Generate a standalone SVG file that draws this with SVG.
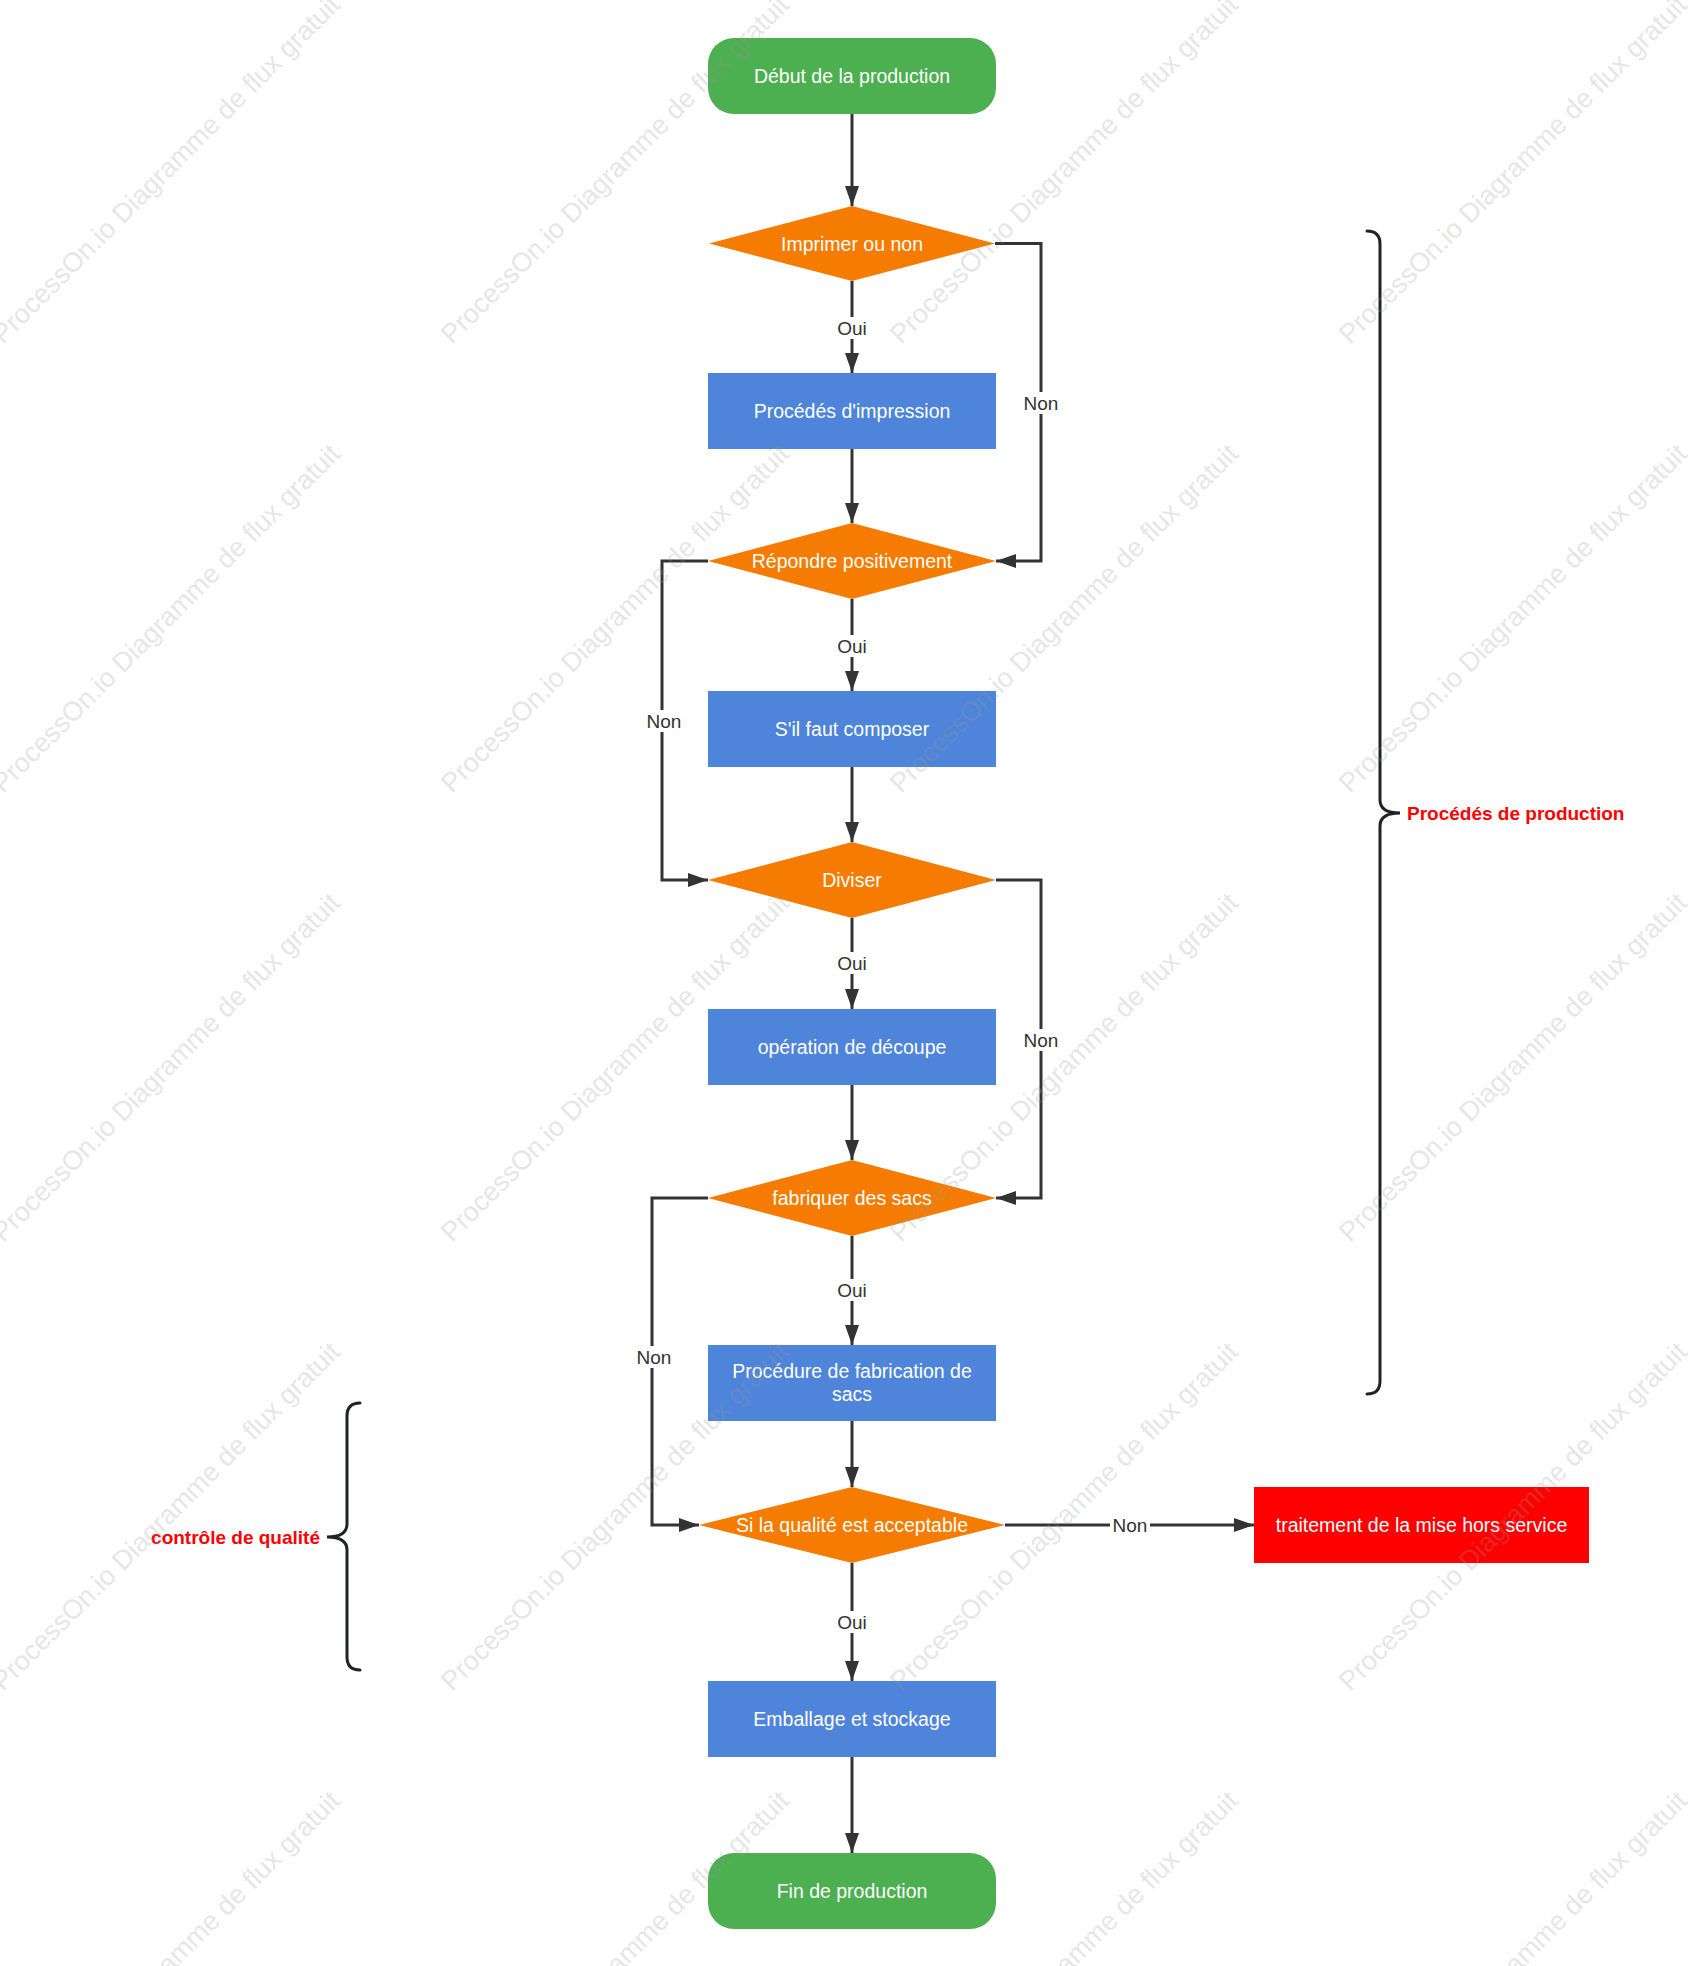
<svg xmlns="http://www.w3.org/2000/svg" width="1704" height="1966" viewBox="0 0 1704 1966">
<style>
.term{fill:#4caf50}
.proc{fill:#4e84d9}
.dec{fill:#f57c00}
.red{fill:#ff0000}
.nt{font-family:"Liberation Sans",Arial,sans-serif;font-size:19.5px;fill:#ffffff;text-anchor:middle}
.lbl{font-family:"Liberation Sans",Arial,sans-serif;font-size:19px;fill:#333333;text-anchor:middle}
.lbg{fill:#ffffff}
.conn{fill:none;stroke:#333333;stroke-width:3}
.brace{fill:none;stroke:#1f2329;stroke-width:3;stroke-linecap:round}
.bl{font-family:"Liberation Sans",Arial,sans-serif;font-size:19px;font-weight:bold;fill:#ff0000}
.wm{font-family:"Liberation Sans",Arial,sans-serif;font-size:27px;fill:#9a9a9a;opacity:0.24}
</style>
<defs>
<marker id="arr" markerUnits="userSpaceOnUse" markerWidth="20" markerHeight="14" refX="20" refY="7" orient="auto">
<path d="M0,0 L20,7 L0,14 z" fill="#333333"/>
</marker>
</defs>
<rect width="1704" height="1966" fill="#ffffff"/>

<g id="connectors">
<path class="conn" d="M852,114 L852,206" marker-end="url(#arr)"/>
<path class="conn" d="M852,281 L852,373" marker-end="url(#arr)"/>
<path class="conn" d="M995,243.5 L1041,243.5 L1041,561 L996,561" marker-end="url(#arr)"/>
<path class="conn" d="M852,449 L852,523" marker-end="url(#arr)"/>
<path class="conn" d="M852,599 L852,691" marker-end="url(#arr)"/>
<path class="conn" d="M708,561 L662,561 L662,880 L708,880" marker-end="url(#arr)"/>
<path class="conn" d="M852,767 L852,842" marker-end="url(#arr)"/>
<path class="conn" d="M852,918 L852,1009" marker-end="url(#arr)"/>
<path class="conn" d="M996,880 L1041,880 L1041,1198 L996,1198" marker-end="url(#arr)"/>
<path class="conn" d="M852,1085 L852,1160" marker-end="url(#arr)"/>
<path class="conn" d="M852,1236 L852,1345" marker-end="url(#arr)"/>
<path class="conn" d="M708,1198 L652,1198 L652,1525 L699,1525" marker-end="url(#arr)"/>
<path class="conn" d="M852,1421 L852,1487" marker-end="url(#arr)"/>
<path class="conn" d="M852,1563 L852,1681" marker-end="url(#arr)"/>
<path class="conn" d="M1005,1525 L1254,1525" marker-end="url(#arr)"/>
<path class="conn" d="M852,1757 L852,1853" marker-end="url(#arr)"/>

<rect class="lbg" x="835" y="317" width="34" height="22"/><text class="lbl" x="852" y="335">Oui</text>
<rect class="lbg" x="1021" y="392" width="40" height="22"/><text class="lbl" x="1041" y="410">Non</text>
<rect class="lbg" x="835" y="635" width="34" height="22"/><text class="lbl" x="852" y="653">Oui</text>
<rect class="lbg" x="644" y="710" width="40" height="22"/><text class="lbl" x="664" y="728">Non</text>
<rect class="lbg" x="835" y="952" width="34" height="22"/><text class="lbl" x="852" y="970">Oui</text>
<rect class="lbg" x="1021" y="1029" width="40" height="22"/><text class="lbl" x="1041" y="1047">Non</text>
<rect class="lbg" x="835" y="1279" width="34" height="22"/><text class="lbl" x="852" y="1297">Oui</text>
<rect class="lbg" x="634" y="1346" width="40" height="22"/><text class="lbl" x="654" y="1364">Non</text>
<rect class="lbg" x="1110" y="1514" width="40" height="22"/><text class="lbl" x="1130" y="1532">Non</text>
<rect class="lbg" x="835" y="1611" width="34" height="22"/><text class="lbl" x="852" y="1629">Oui</text>
</g>

<g id="n-debut"><rect class="term" x="708" y="38" width="288" height="76" rx="26" ry="26"/><text class="nt" x="852" y="83">Début de la production</text></g>
<g id="n-imprimer"><polygon class="dec" points="709,243.5 852,206 995,243.5 852,281"/><text class="nt" x="852" y="250.5">Imprimer ou non</text></g>
<g id="n-impression"><rect class="proc" x="708" y="373" width="288" height="76"/><text class="nt" x="852" y="418">Procédés d'impression</text></g>
<g id="n-repondre"><polygon class="dec" points="708,561 852,523 996,561 852,599"/><text class="nt" x="852" y="568">Répondre positivement</text></g>
<g id="n-composer"><rect class="proc" x="708" y="691" width="288" height="76"/><text class="nt" x="852" y="736">S'il faut composer</text></g>
<g id="n-diviser"><polygon class="dec" points="708,880 852,842 996,880 852,918"/><text class="nt" x="852" y="887">Diviser</text></g>
<g id="n-decoupe"><rect class="proc" x="708" y="1009" width="288" height="76"/><text class="nt" x="852" y="1054">opération de découpe</text></g>
<g id="n-fabriquer"><polygon class="dec" points="708,1198 852,1160 996,1198 852,1236"/><text class="nt" x="852" y="1205">fabriquer des sacs</text></g>
<g id="n-procedure"><rect class="proc" x="708" y="1345" width="288" height="76"/><text class="nt" x="852" y="1378">Procédure de fabrication de</text><text class="nt" x="852" y="1401">sacs</text></g>
<g id="n-qualite"><polygon class="dec" points="699,1525 852,1487 1005,1525 852,1563"/><text class="nt" x="852" y="1532">Si la qualité est acceptable</text></g>
<g id="n-hors-service"><rect class="red" x="1254" y="1487" width="335" height="76"/><text class="nt" x="1421.5" y="1532">traitement de la mise hors service</text></g>
<g id="n-emballage"><rect class="proc" x="708" y="1681" width="288" height="76"/><text class="nt" x="852" y="1726">Emballage et stockage</text></g>
<g id="n-fin"><rect class="term" x="708" y="1853" width="288" height="76" rx="26" ry="26"/><text class="nt" x="852" y="1898">Fin de production</text></g>

<g id="brace-production">
<path class="brace" d="M1367,231 Q1380,231 1380,244 L1380,800 Q1380,813 1400,813 Q1380,813 1380,826 L1380,1381 Q1380,1394 1367,1394"/>
<text class="bl" x="1407" y="820">Procédés de production</text>
</g>
<g id="brace-qualite">
<path class="brace" d="M360,1403 Q347,1403 347,1416 L347,1524 Q347,1537 327,1537 Q347,1537 347,1550 L347,1657 Q347,1670 360,1670"/>
<text class="bl" x="320" y="1544" text-anchor="end">contrôle de qualité</text>
</g>

<g id="watermark">
<text class="wm" transform="translate(3,345) rotate(-45)">ProcessOn.io Diagramme de flux gratuit</text>
<text class="wm" transform="translate(452,345) rotate(-45)">ProcessOn.io Diagramme de flux gratuit</text>
<text class="wm" transform="translate(901,345) rotate(-45)">ProcessOn.io Diagramme de flux gratuit</text>
<text class="wm" transform="translate(1350,345) rotate(-45)">ProcessOn.io Diagramme de flux gratuit</text>
<text class="wm" transform="translate(3,794) rotate(-45)">ProcessOn.io Diagramme de flux gratuit</text>
<text class="wm" transform="translate(452,794) rotate(-45)">ProcessOn.io Diagramme de flux gratuit</text>
<text class="wm" transform="translate(901,794) rotate(-45)">ProcessOn.io Diagramme de flux gratuit</text>
<text class="wm" transform="translate(1350,794) rotate(-45)">ProcessOn.io Diagramme de flux gratuit</text>
<text class="wm" transform="translate(3,1243) rotate(-45)">ProcessOn.io Diagramme de flux gratuit</text>
<text class="wm" transform="translate(452,1243) rotate(-45)">ProcessOn.io Diagramme de flux gratuit</text>
<text class="wm" transform="translate(901,1243) rotate(-45)">ProcessOn.io Diagramme de flux gratuit</text>
<text class="wm" transform="translate(1350,1243) rotate(-45)">ProcessOn.io Diagramme de flux gratuit</text>
<text class="wm" transform="translate(3,1692) rotate(-45)">ProcessOn.io Diagramme de flux gratuit</text>
<text class="wm" transform="translate(452,1692) rotate(-45)">ProcessOn.io Diagramme de flux gratuit</text>
<text class="wm" transform="translate(901,1692) rotate(-45)">ProcessOn.io Diagramme de flux gratuit</text>
<text class="wm" transform="translate(1350,1692) rotate(-45)">ProcessOn.io Diagramme de flux gratuit</text>
<text class="wm" transform="translate(3,2141) rotate(-45)">ProcessOn.io Diagramme de flux gratuit</text>
<text class="wm" transform="translate(452,2141) rotate(-45)">ProcessOn.io Diagramme de flux gratuit</text>
<text class="wm" transform="translate(901,2141) rotate(-45)">ProcessOn.io Diagramme de flux gratuit</text>
<text class="wm" transform="translate(1350,2141) rotate(-45)">ProcessOn.io Diagramme de flux gratuit</text>
</g>
</svg>
